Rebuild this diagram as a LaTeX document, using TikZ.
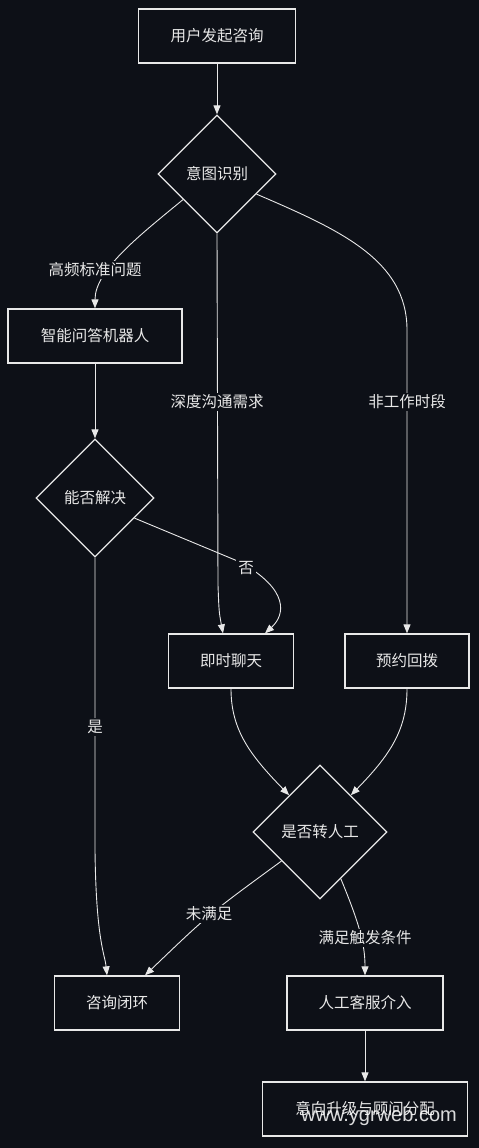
\documentclass[tikz,border=0pt]{standalone}
\usepackage{fontspec}
\setmainfont{Noto Sans CJK SC}
\newfontfamily\wmfont{Liberation Sans}
\usepackage{tikz}
\usetikzlibrary{shapes.geometric,arrows.meta}
\definecolor{bg}{HTML}{0D1017}
\definecolor{ink}{HTML}{E8E8E8}

\begin{document}
\begin{tikzpicture}[x=1pt,y=-1pt,
  proc/.style={draw=ink,line width=1.3pt,fill=bg,text=ink,minimum height=54pt,inner sep=0pt,font=\fontsize{15.5}{18}\selectfont},
  decide/.style={diamond,aspect=1,draw=ink,line width=1.3pt,fill=bg,text=ink,inner sep=0pt,font=\fontsize{15.5}{18}\selectfont},
  lbl/.style={fill=bg,text=ink,inner sep=2pt,font=\fontsize{15.5}{18}\selectfont},
  flow/.style={draw=ink,line width=0.9pt,-{Triangle[length=9pt,width=7pt]}}]
\fill[bg] (0,0) rectangle (479,1148);
\useasboundingbox (0,0) rectangle (479,1148);

% Entry and intent
\node[proc,minimum width=157pt] (start) at (217,36) {用户发起咨询};
\node[decide,minimum width=118pt,minimum height=118pt] (intent) at (217,174) {意图识别};
\draw[flow] (start) -- (intent);

% Robot branch
\node[proc,minimum width=174pt] (robot) at (95,336) {智能问答机器人};
\node[decide,minimum width=118pt,minimum height=118pt] (solved) at (95,498) {能否解决};
\draw[flow] (intent.217) .. controls (140,235) and (95,270) .. (robot.north);
\node[lbl] (lblfreq) at (95,270) {高频标准问题};
\draw[flow] (robot) -- (solved);

% Chat and callback
\node[proc,minimum width=125pt] (chat) at (231,661) {即时聊天};
\node[proc,minimum width=124pt] (callback) at (407,661) {预约回拨};
\draw[flow] (intent.south) -- (218,585) .. controls (219,612) .. ([xshift=-8pt]chat.north);
\node[lbl] (lbldeep) at (217,402) {深度沟通需求};
\draw[flow] (intent.333) .. controls (340,230) and (407,260) .. (407,330) -- (callback.north);
\node[lbl] (lbloff) at (407,402) {非工作时段};
\draw[flow] (solved.333) -- (240,562) .. controls (290,590) and (285,615) .. ([xshift=34pt]chat.north);
\node[lbl] (lblno) at (246,568) {否};

% Transfer decision
\node[decide,minimum width=134pt,minimum height=134pt] (transfer) at (320,832) {是否转人工};
\draw[flow] (chat.south) .. controls (231,730) and (250,755) .. (transfer.130);
\draw[flow] (callback.south) .. controls (407,730) and (390,755) .. (transfer.50);

% Outcomes
\node[proc,minimum width=125pt] (closed) at (117,1003) {咨询闭环};
\node[proc,minimum width=156pt] (agent) at (365,1003) {人工客服介入};
\node[proc,minimum width=205pt] (assign) at (365,1109) {意向升级与顾问分配};
\draw[flow] (solved.south) -- (95,850) .. controls (96,940) and (105,955) .. ([xshift=-10pt]closed.north);
\node[lbl] (lblyes) at (95,727) {是};
\draw[flow] (transfer.217) .. controls (209,914) .. ([xshift=28pt]closed.north);
\node[lbl] (lblunmet) at (209,914) {未满足};
\draw[flow] (transfer.294) .. controls (360,925) and (365,945) .. (agent.north);
\node[lbl] (lblmet) at (365,938) {满足触发条件};
\draw[flow] (agent) -- (assign);

% Watermark
\node[text=white,opacity=0.85,font=\wmfont\fontsize{20}{22}\selectfont,inner sep=0pt] (wm) at (379,1116) {www.ygrweb.com};
\end{tikzpicture}
\end{document}
